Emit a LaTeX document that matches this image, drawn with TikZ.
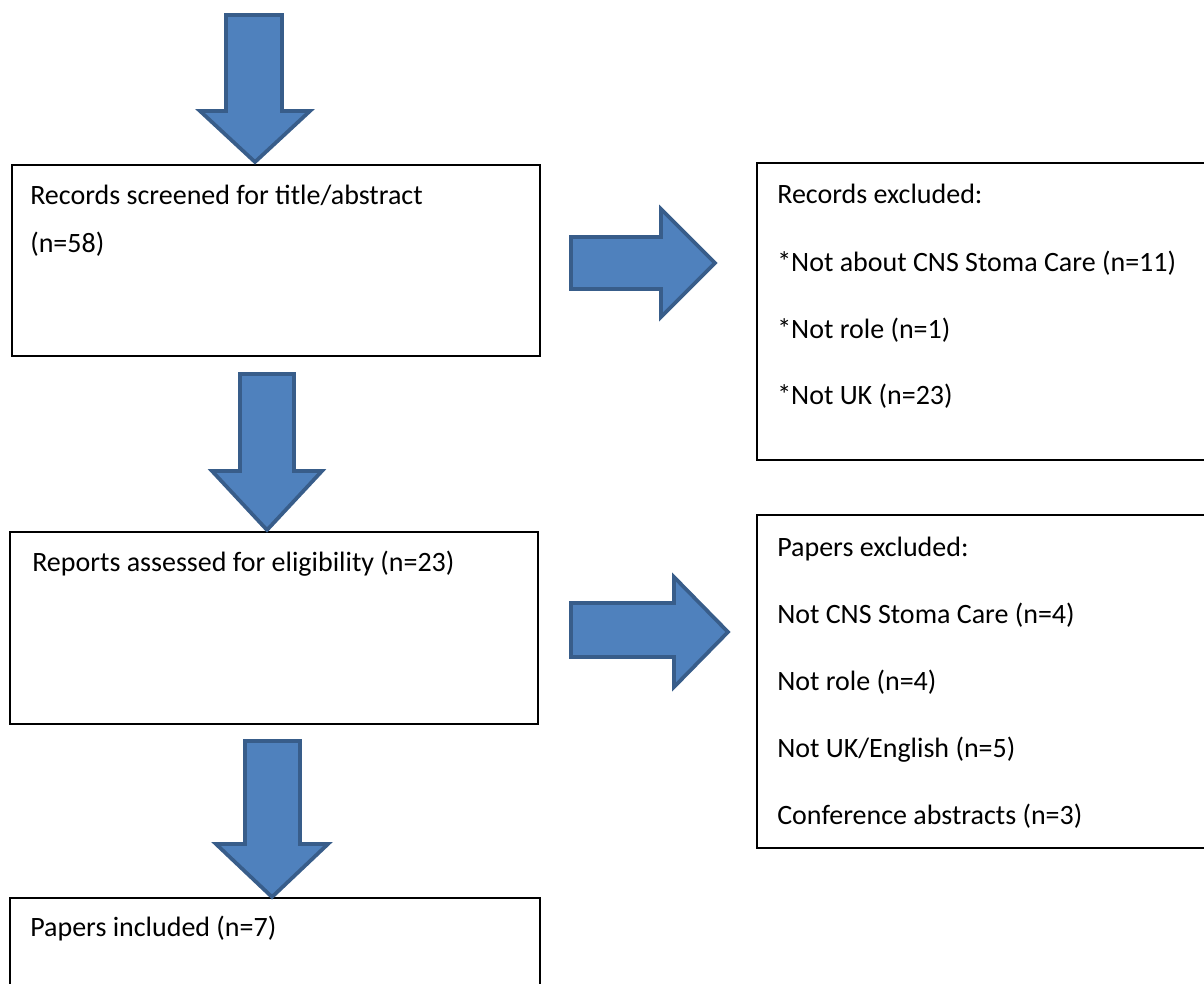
\documentclass[tikz,border=0pt]{standalone}
\usepackage{fontspec}
\setmainfont{Carlito}
\begin{document}
\begin{tikzpicture}[x=0.75pt,y=-0.75pt,
  boxstyle/.style={draw=black,line width=1pt},
  blockarrow/.style={fill=arrowfill,draw=arrowline,line width=2.8pt,line join=miter},
  txt/.style={anchor=base west,inner sep=0pt,font=\fontsize{21}{25}\selectfont}]
\definecolor{arrowfill}{HTML}{4F81BD}
\definecolor{arrowline}{HTML}{385D8A}
\useasboundingbox (0,0) rectangle (1204,983);
% boxes
\draw[boxstyle] (12,165) rectangle (540,356);
\draw[boxstyle] (757,163) rectangle (1210,460);
\draw[boxstyle] (10,532) rectangle (538,724);
\draw[boxstyle] (757,515) rectangle (1210,848);
\draw[boxstyle] (10,898) rectangle (540,990);
% texts
\node[txt] (t1a) at (30,204) {Records screened for title/abstract};
\node[txt] (t1b) at (30,252) {(n=58)};
\node[txt] (t2a) at (777,203) {Records excluded:};
\node[txt] (t2b) at (777,271) {*Not about CNS Stoma Care (n=11)};
\node[txt] (t2c) at (777,338) {*Not role (n=1)};
\node[txt] (t2d) at (777,404) {*Not UK (n=23)};
\node[txt] (t3a) at (32,571) {Reports assessed for eligibility (n=23)};
\node[txt] (t4a) at (777,556) {Papers excluded:};
\node[txt] (t4b) at (777,623) {Not CNS Stoma Care (n=4)};
\node[txt] (t4c) at (777,690) {Not role (n=4)};
\node[txt] (t4d) at (777,757) {Not UK/English (n=5)};
\node[txt] (t4e) at (777,824) {Conference abstracts (n=3)};
\node[txt] (t5a) at (30,936) {Papers included (n=7)};
% down arrows
\draw[blockarrow] (226,15) -- (282,15) -- (282,111) -- (310,111) -- (255,162) -- (200,111) -- (226,111) -- cycle;
\draw[blockarrow] (240,374) -- (294,374) -- (294,471) -- (322,471) -- (267,530) -- (212,471) -- (240,471) -- cycle;
\draw[blockarrow] (245,741) -- (300,741) -- (300,844) -- (328,844) -- (272,897) -- (216,844) -- (245,844) -- cycle;
% right arrows
\draw[blockarrow] (571,237) -- (661,237) -- (661,209) -- (715,263) -- (661,317) -- (661,289) -- (571,289) -- cycle;
\draw[blockarrow] (571,603) -- (674,603) -- (674,577) -- (728,632) -- (674,687) -- (674,657) -- (571,657) -- cycle;
\end{tikzpicture}
\end{document}
